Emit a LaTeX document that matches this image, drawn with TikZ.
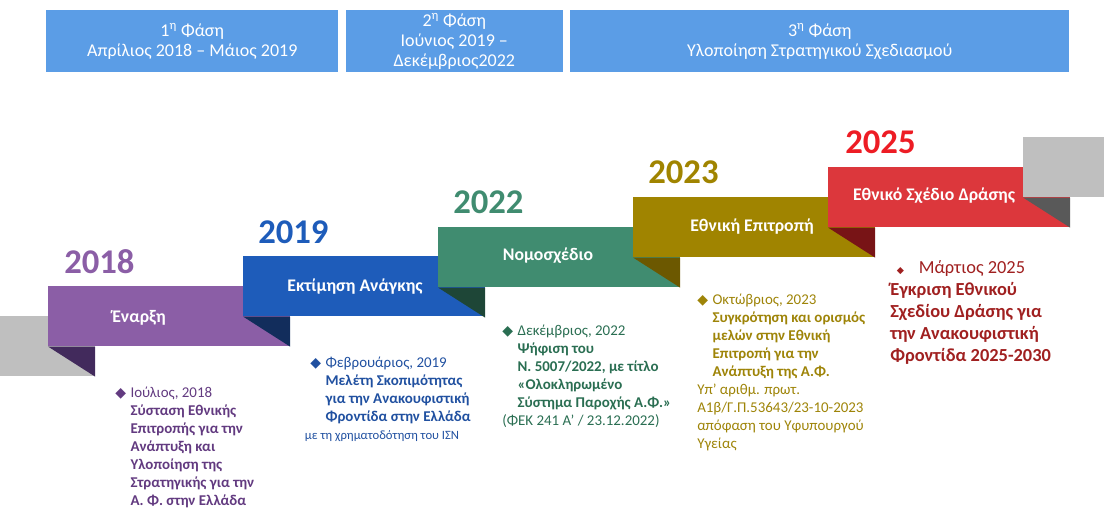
\documentclass[tikz,border=0pt]{standalone}
\usepackage{fontspec}
\setmainfont{Carlito}
\newfontfamily\symfont{DejaVu Sans}
\usetikzlibrary{positioning}
\definecolor{phaseblue}{RGB}{91,157,230}
\definecolor{ribgray}{RGB}{191,191,191}
\definecolor{ribgraydk}{RGB}{89,89,89}
\definecolor{ribpurple}{RGB}{139,94,166}
\definecolor{ribpurpledk}{RGB}{66,42,92}
\definecolor{ribblue}{RGB}{30,92,186}
\definecolor{ribbluedk}{RGB}{18,45,92}
\definecolor{ribgreen}{RGB}{64,140,112}
\definecolor{ribgreendk}{RGB}{30,70,55}
\definecolor{ribolive}{RGB}{160,132,0}
\definecolor{riboliveldk}{RGB}{108,88,0}
\definecolor{ribred}{RGB}{220,55,60}
\definecolor{ribreddk}{RGB}{120,20,22}
\definecolor{yrred}{RGB}{237,28,36}
\definecolor{notepurple}{RGB}{98,58,128}
\definecolor{noteblue}{RGB}{32,80,160}
\definecolor{notegreen}{RGB}{42,110,82}
\definecolor{noteolive}{RGB}{158,132,8}
\definecolor{notered}{RGB}{160,32,32}
\newlength{\dw}
\setlength{\dw}{11.5pt}
\newcommand{\dia}{\makebox[\dw][l]{\symfont\fontsize{10.5}{10.5}\selectfont ◆}}
\newcommand{\ind}{\hspace*{\dw}}

\begin{document}
\begin{tikzpicture}[x=0.75pt,y=-0.75pt,
  phase/.style={fill=phaseblue,text=white,align=center,inner sep=0pt,
    minimum height=46.5pt,font=\fontsize{13.5}{15}\selectfont},
  ribbon/.style={anchor=north west,inner sep=0pt,minimum width=181.5pt,minimum height=45pt},
  ribtext/.style={text=white,font=\bfseries\fontsize{13.3}{15}\selectfont,inner sep=0pt},
  year/.style={anchor=base west,inner sep=0pt,font=\bfseries\fontsize{26}{30}\selectfont},
  note/.style={anchor=north west,align=left,inner sep=0pt,font=\fontsize{11.2}{13.5}\selectfont}]
  \useasboundingbox (0,0) rectangle (1104,510);
  \clip (0,0) rectangle (1104,510);
  % phases
  \node[phase,minimum width=219pt,anchor=north west] (ph1) at (46,10) {1\textsuperscript{η} Φάση\\Απρίλιος 2018 – Μάιος 2019};
  \node[phase,minimum width=162.75pt,right=5.25pt of ph1] (ph2) {2\textsuperscript{η} Φάση\\Ιούνιος 2019 –\\Δεκέμβριος2022};
  \node[phase,minimum width=374.25pt,right=5.25pt of ph2] (ph3) {3\textsuperscript{η} Φάση\\Υλοποίηση Στρατηγικού Σχεδιασμού};
  % ribbons
  \node[ribbon,fill=ribgray] (r0) at (-147,316) {};
  \node[ribbon,fill=ribpurple] (r1) at (48,286) {};
  \fill[ribpurpledk] (r1.south west) -- ++(47,0) -- ++(0,30) -- cycle;
  \node[ribbon,fill=ribblue] (r2) at (243,256) {};
  \fill[ribbluedk] (r2.south west) -- ++(47,0) -- ++(0,30) -- cycle;
  \node[ribbon,fill=ribgreen] (r3) at (438,227) {};
  \fill[ribgreendk] (r3.south west) -- ++(47,0) -- ++(0,30) -- cycle;
  \node[ribbon,fill=ribolive] (r4) at (633,197) {};
  \fill[riboliveldk] (r4.south west) -- ++(47,0) -- ++(0,30) -- cycle;
  \node[ribbon,fill=ribred] (r5) at (828,167) {};
  \fill[ribreddk] (r5.south west) -- ++(47,0) -- ++(0,30) -- cycle;
  \node[ribbon,fill=ribgray] (r6) at (1023,137) {};
  \fill[ribgraydk] (r6.south west) -- ++(47,0) -- ++(0,30) -- cycle;
  % ribbon labels
  \node[ribtext] (t1) at (139,318) {Έναρξη};
  \node[ribtext] (t2) at (355,287) {Εκτίμηση Ανάγκης};
  \node[ribtext] (t3) at (548,256) {Νομοσχέδιο};
  \node[ribtext] (t4) at (752,227) {Εθνική Επιτροπή};
  \node[ribtext] (t5) at (934,196) {Εθνικό Σχέδιο Δράσης};
  % years
  \node[year,text=ribpurple] (y1) at (64,273) {2018};
  \node[year,text=ribblue] (y2) at (258,243) {2019};
  \node[year,text=ribgreen] (y3) at (453,213) {2022};
  \node[year,text=ribolive] (y4) at (648,183) {2023};
  \node[year,text=yrred] (y5) at (845,153) {2025};
  % notes
  \node[note,text=notepurple] (n1) at (115,387) {\dia Ιούλιος, 2018\\
    \ind\textbf{Σύσταση Εθνικής}\\
    \ind\textbf{Επιτροπής για την}\\
    \ind\textbf{Ανάπτυξη και}\\
    \ind\textbf{Υλοποίηση της}\\
    \ind\textbf{Στρατηγικής για την}\\
    \ind\textbf{Α. Φ. στην Ελλάδα}};
  \node[note,text=noteblue] (n2) at (310,357) {\dia Φεβρουάριος, 2019\\
    \ind\textbf{Μελέτη Σκοπιμότητας}\\
    \ind\textbf{για την Ανακουφιστική}\\
    \ind\textbf{Φροντίδα στην Ελλάδα}\\
    \hspace*{-4pt}{\fontsize{9.5}{13.5}\selectfont με τη χρηματοδότηση του ΙΣΝ}};
  \node[note,text=notegreen] (n3) at (502,325) {\dia Δεκέμβριος, 2022\\
    \ind\textbf{Ψήφιση του}\\
    \ind\textbf{Ν. 5007/2022, με τίτλο}\\
    \ind\textbf{«Ολοκληρωμένο}\\
    \ind\textbf{Σύστημα Παροχής Α.Φ.»}\\
    (ΦΕΚ 241 Α’ / 23.12.2022)};
  \node[note,text=noteolive] (n4) at (697,294) {\dia Οκτώβριος, 2023\\
    \ind\textbf{Συγκρότηση και ορισμός}\\
    \ind\textbf{μελών στην Εθνική}\\
    \ind\textbf{Επιτροπή για την}\\
    \ind\textbf{Ανάπτυξη της Α.Φ.}\\
    Υπ’ αριθμ. πρωτ.\\
    Α1β/Γ.Π.53643/23-10-2023\\
    απόφαση του Υφυπουργού\\
    Υγείας};
  \node[note,text=notered,font=\fontsize{13.8}{16.5}\selectfont] (n5) at (890,260) {\hspace*{5pt}{\symfont\fontsize{7}{7}\selectfont ◆}\hspace{11pt}Μάρτιος 2025\\
    \textbf{Έγκριση Εθνικού}\\
    \textbf{Σχεδίου Δράσης για}\\
    \textbf{την Ανακουφιστική}\\
    \textbf{Φροντίδα 2025-2030}};
\end{tikzpicture}
\end{document}
